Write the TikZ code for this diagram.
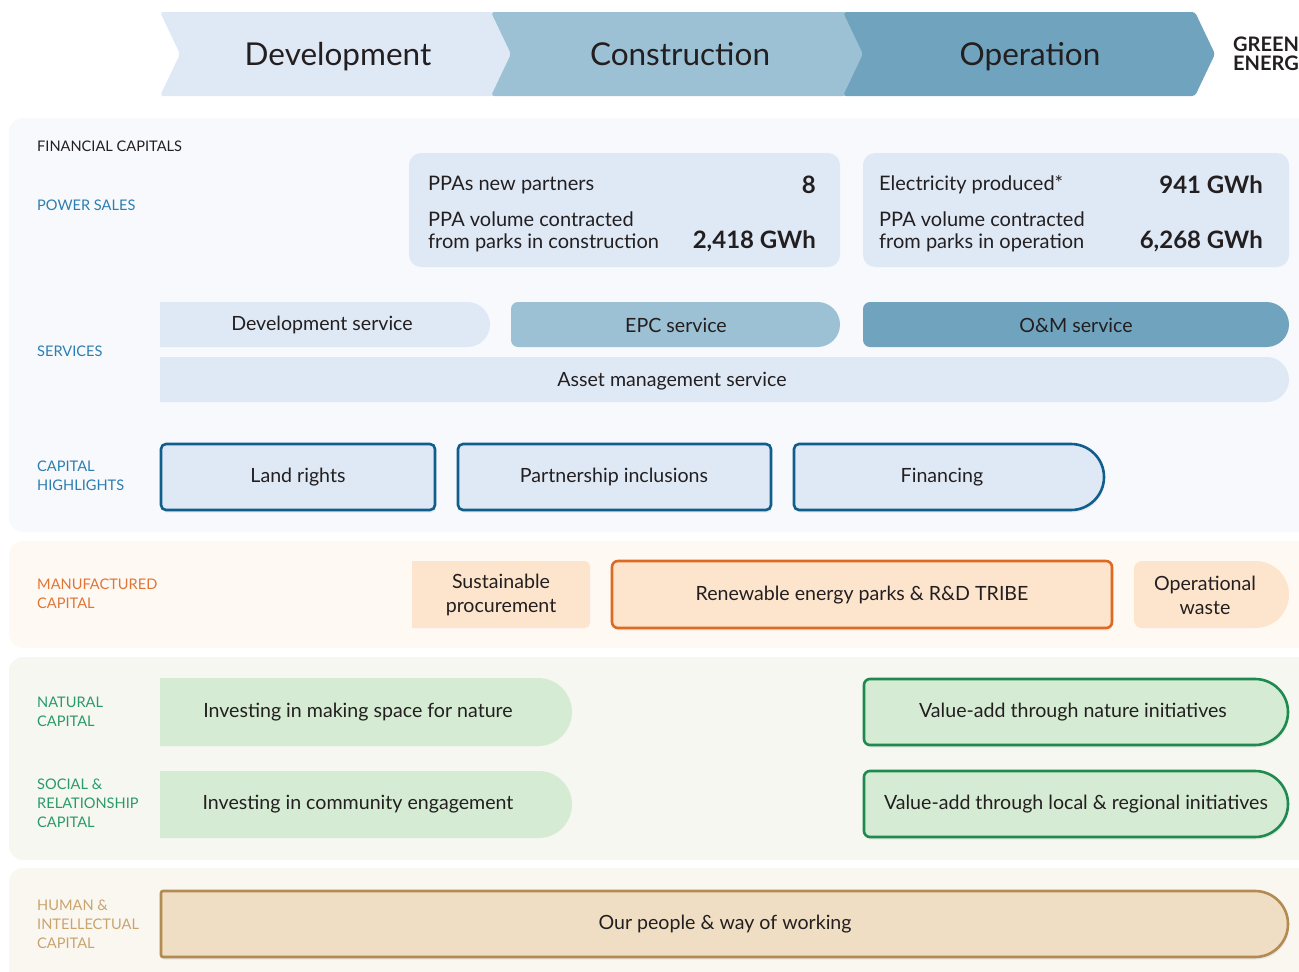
\documentclass[tikz,border=0pt]{standalone}
\usepackage{fontspec}
\setmainfont{Lato}
\usetikzlibrary{shadows}

\definecolor{ink}{HTML}{231F20}
\definecolor{devfill}{HTML}{DFE9F5}
\definecolor{confill}{HTML}{9CC0D4}
\definecolor{opfill}{HTML}{6FA3BE}
\definecolor{finbg}{HTML}{F7F9FC}
\definecolor{manbg}{HTML}{FFF9F3}
\definecolor{natbg}{HTML}{F5F7F0}
\definecolor{humbg}{HTML}{FAF6F0}
\definecolor{bluelbl}{HTML}{2C7DB2}
\definecolor{blueedge}{HTML}{0F5E8C}
\definecolor{orangelbl}{HTML}{E07535}
\definecolor{orangeedge}{HTML}{DD6A22}
\definecolor{peach}{HTML}{FDE5CD}
\definecolor{greenlbl}{HTML}{2A9A68}
\definecolor{greenedge}{HTML}{1E8A4F}
\definecolor{greenfill}{HTML}{D5EBD3}
\definecolor{tanlbl}{HTML}{C9A46E}
\definecolor{tanedge}{HTML}{B28B52}
\definecolor{tanfill}{HTML}{EFDEC3}

% Box with left corners of radius #6 and right corners of radius #7
% (#7 = half the height gives a round right end).
\newcommand\rpill[7]{%
  \path[#1] (#2,{(#3+#5)/2}) [rounded corners=#6] -- (#2,#3) -- ({(#2+#4)/2},#3)
    [rounded corners=#7] -- (#4,#3) -- (#4,#5) -- ({(#2+#4)/2},#5)
    [rounded corners=#6] -- (#2,#5) -- cycle;}

\begin{document}
\begin{tikzpicture}[x=1pt,y=-1pt,
  hdr/.style={font=\fontsize{31.5}{36}\selectfont, text=ink, inner sep=0pt, anchor=base},
  brand/.style={font=\fontsize{20}{20}\bfseries\selectfont, text=ink, inner sep=0pt, anchor=base west},
  lbl/.style={font=\fontsize{14.6}{19}\selectfont, anchor=west, align=left, inner sep=0pt},
  ptxt/.style={font=\fontsize{20}{22}\selectfont, text=ink, inner sep=0pt, align=left, anchor=base west},
  pnum/.style={font=\fontsize{24}{24}\bfseries\selectfont, text=ink, inner sep=0pt, anchor=base east},
  btxt/.style={font=\fontsize{19.6}{24}\selectfont, text=ink, inner sep=0pt, align=center},
  softshadow/.style={drop shadow={opacity=0.13, shadow xshift=1pt, shadow yshift=-2.5pt}},
  edge/.style={line width=2.6pt}
]
\useasboundingbox (0,0) rectangle (1299,972);
\clip (0,0) rectangle (1299,972);

% ---------- value chain header ----------
\fill[devfill, rounded corners=3] (160,12) -- (494,12) -- (515,54) -- (494,96) -- (160,96) -- (180,54) -- cycle;
\fill[confill, rounded corners=3] (491,12) -- (846,12) -- (867,54) -- (846,96) -- (491,96) -- (511,54) -- cycle;
\fill[opfill, rounded corners=3] (843,12) -- (1195,12) -- (1215,54) -- (1195,96) -- (843,96) -- (863,54) -- cycle;
\node[hdr] (hdev) at (338,65) {Development};
\node[hdr] (hcon) at (680,65) {Construction};
\node[hdr] (hop) at (1030,65) {Operation};
\node[brand] (brand1) at (1233,51) {GREEN};
\node[brand] (brand2) at (1233,70) {ENERG};

% ---------- capital panels ----------
\fill[finbg, rounded corners=14] (9,118) rectangle (1320,532);
\fill[manbg, rounded corners=14] (9,541) rectangle (1320,648);
\fill[natbg, rounded corners=14] (9,657) rectangle (1320,860);
\fill[humbg, rounded corners=14] (9,868) rectangle (1320,990);

% ---------- row labels ----------
\node[lbl, text=ink] (lfin) at (37,146) {FINANCIAL CAPITALS};
\node[lbl, text=bluelbl] (lpow) at (37,205) {POWER SALES};
\node[lbl, text=bluelbl] (lsrv) at (37,351) {SERVICES};
\node[lbl, text=bluelbl] (lcap) at (37,475.5) {CAPITAL\\HIGHLIGHTS};
\node[lbl, text=orangelbl] (lman) at (37,593.5) {MANUFACTURED\\CAPITAL};
\node[lbl, text=greenlbl] (lnat) at (37,711.5) {NATURAL\\CAPITAL};
\node[lbl, text=greenlbl] (lsoc) at (37,803) {SOCIAL \&\\RELATIONSHIP\\CAPITAL};
\node[lbl, text=tanlbl] (lhum) at (37,924.5) {HUMAN \&\\INTELLECTUAL\\CAPITAL};

% ---------- power sales ----------
\fill[devfill, rounded corners=12] (409,153) rectangle (840,267);
\fill[devfill, rounded corners=12] (863,153) rectangle (1289,267);
\node[ptxt] (ppa1) at (428,190) {PPAs new partners};
\node[pnum] (num1) at (816,193) {8};
\node[ptxt] (ppa2) at (428,248) {PPA volume contracted\\from parks in construction};
\node[pnum] (num2) at (816,248) {2,418 GWh};
\node[ptxt] (ele1) at (879,190) {Electricity produced*};
\node[pnum] (num3) at (1263,193) {941 GWh};
\node[ptxt] (ele2) at (879,248) {PPA volume contracted\\from parks in operation};
\node[pnum] (num4) at (1263,248) {6,268 GWh};

% ---------- services ----------
\rpill{fill=devfill}{160}{302}{490}{347}{0.01}{22.5}
\rpill{fill=confill}{511}{302}{840}{347}{7}{22.5}
\rpill{fill=opfill}{863}{302}{1289}{347}{7}{22.5}
\rpill{fill=devfill}{160}{357}{1289}{402}{0.01}{22.5}
\node[btxt] (sdev) at (322,325) {Development service};
\node[btxt] (sepc) at (676,325) {EPC service};
\node[btxt] (som) at (1076,325) {O\&M service};
\node[btxt] (sasset) at (672,381) {Asset management service};

% ---------- capital highlights ----------
\rpill{fill=devfill, draw=blueedge, edge, softshadow}{161}{444}{435}{510}{5}{5}
\rpill{fill=devfill, draw=blueedge, edge, softshadow}{458}{444}{771}{510}{5}{5}
\rpill{fill=devfill, draw=blueedge, edge, softshadow}{794}{444}{1104}{510}{5}{33}
\node[btxt] (land) at (298,477) {Land rights};
\node[btxt] (part) at (614,477) {Partnership inclusions};
\node[btxt] (fin) at (942,477) {Financing};

% ---------- manufactured capital ----------
\rpill{fill=peach}{412}{561}{590}{628}{0.01}{5}
\rpill{fill=peach, draw=orangeedge, edge, softshadow}{612}{561}{1112}{628}{6}{6}
\rpill{fill=peach}{1134}{561}{1289}{628}{8}{33.5}
\node[btxt] (sust) at (501,595) {Sustainable\\procurement};
\node[btxt] (parks) at (862,595) {Renewable energy parks \& R\&D TRIBE};
\node[btxt] (waste) at (1205,595) {Operational\\waste};

% ---------- natural, social & relationship capital ----------
\rpill{fill=greenfill}{160}{678}{572}{746}{0.01}{34}
\rpill{fill=greenfill}{160}{771}{572}{838}{0.01}{33.5}
\rpill{fill=greenfill, draw=greenedge, edge, softshadow}{864}{679}{1288}{745}{6}{33}
\rpill{fill=greenfill, draw=greenedge, edge, softshadow}{864}{771}{1288}{837}{6}{33}
\node[btxt] (nat1) at (358,712) {Investing in making space for nature};
\node[btxt] (soc1) at (358,804) {Investing in community engagement};
\node[btxt] (nat2) at (1073,712) {Value-add through nature initiatives};
\node[btxt] (soc2) at (1076,804) {Value-add through local \& regional initiatives};

% ---------- human & intellectual capital ----------
\rpill{fill=tanfill, draw=tanedge, edge, softshadow}{161}{891}{1288}{957}{2}{33}
\node[btxt] (people) at (725,924) {Our people \& way of working};

\end{tikzpicture}
\end{document}
